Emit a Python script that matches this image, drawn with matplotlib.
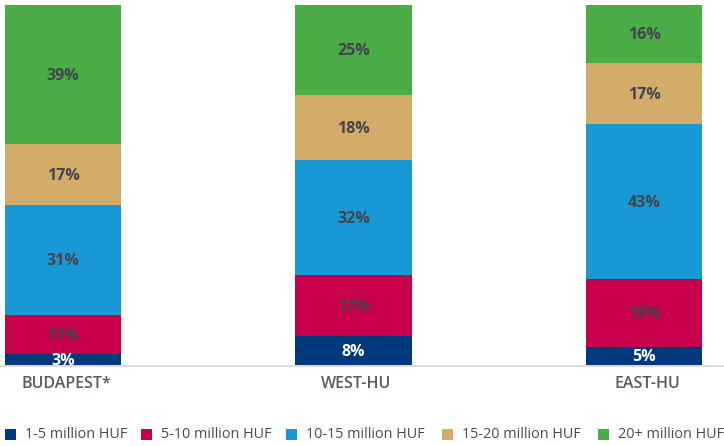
import numpy as np
import matplotlib.pyplot as plt
from matplotlib.patches import Rectangle

# income band shares (%) by region
regions = ["BUDAPEST*", "WEST-HU", "EAST-HU"]
bands = ["1-5 million HUF", "5-10 million HUF", "10-15 million HUF",
         "15-20 million HUF", "20+ million HUF"]
share_1_5 = [3, 8, 5]
share_5_10 = [11, 17, 19]
share_10_15 = [31, 32, 43]
share_15_20 = [17, 18, 17]
share_20_plus = [39, 25, 16]

colors = ["#003a7d", "#c8004c", "#1899d6", "#d4ac6a", "#49ac47"]
label_colors = ["white", "#44444c", "#44444c", "#44444c", "#44444c"]

series = np.array([share_1_5, share_5_10, share_10_15, share_15_20, share_20_plus], dtype=float)
totals = series.sum(axis=0)
heights = series / totals * 100  # bars are drawn as full 100% columns

W, H = 724, 446
fig = plt.figure(figsize=(W / 100, H / 100), dpi=100)
ax = fig.add_axes([0, (H - 365) / H, 1, 360 / H])

x = np.arange(len(regions))
bottom = np.zeros(len(regions))
for i, band in enumerate(bands):
    ax.bar(x, heights[i], width=0.4, bottom=bottom, color=colors[i], label=band)
    for j in range(len(regions)):
        yc = bottom[j] + heights[i][j] / 2 - 0.4
        ax.text(x[j], yc, f"{int(series[i][j])}%", ha="center", va="center",
                fontsize=11.5, fontweight="bold", color=label_colors[i],
                family="Open Sans")
    bottom += heights[i]

ax.set_xlim(-63 / 290.5, 2 + 80 / 290.5)
ax.set_ylim(0, 100.0)
ax.axis("off")

# baseline across the full width
fig.add_artist(plt.Line2D([0, 1], [(H - 365.5) / H] * 2, color="#d6d6d6", lw=1.2))

# region names under the bars
for j, name in enumerate(regions):
    px = 66 + 290.5 * j
    fig.text(px / W, (H - 384) / H, name, ha="center", va="center",
             fontsize=11.5, fontweight="semibold", color="#555a68",
             family="Open Sans")

# legend row
sq_x = [5, 141, 286, 442, 598]
for k, band in enumerate(bands):
    fig.add_artist(Rectangle((sq_x[k] / W, (H - 440) / H), 11 / W, 11 / H,
                             facecolor=colors[k], edgecolor="none",
                             transform=fig.transFigure))
    fig.text((sq_x[k] + 20) / W, (H - 435) / H, band, ha="left", va="center",
             fontsize=10.4, fontweight="medium", color="#454a58",
             family="Open Sans")

fig.savefig("out.png", dpi=100)
